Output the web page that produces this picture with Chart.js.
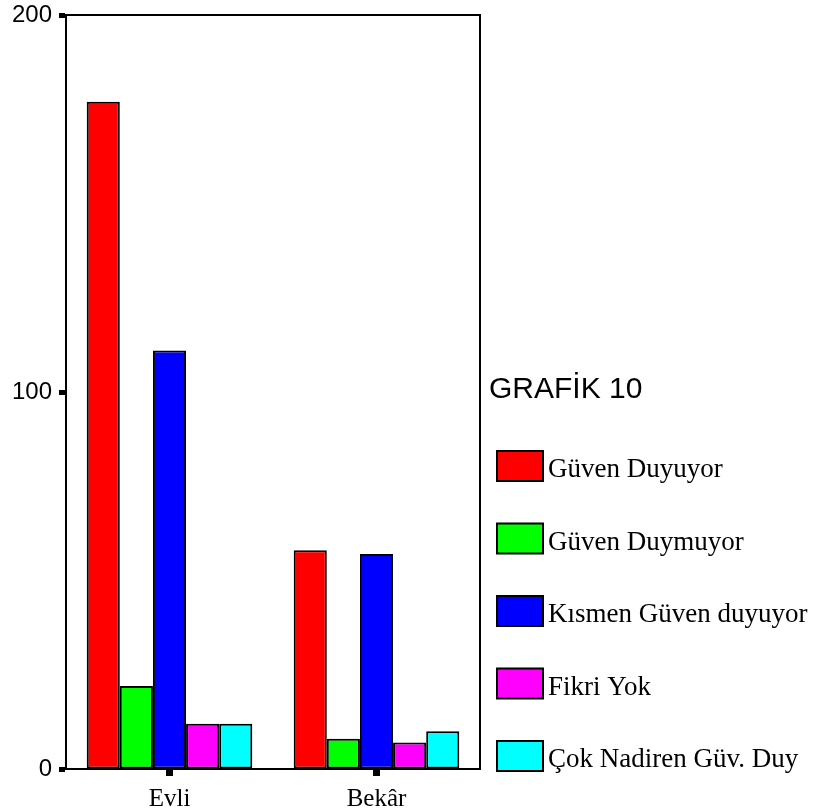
<!DOCTYPE html>
<html>
<head>
<meta charset="utf-8">
<script src="https://cdn.jsdelivr.net/npm/chart.js@4.4.0/dist/chart.umd.min.js"></script>
<style>
  body { margin: 0; background: #fff; }
</style>
</head>
<body>
<canvas id="barChart" width="818" height="810"></canvas>
<script>
const categories = ['Evli', 'Bekâr'];
const seriesNames = ['Güven Duyuyor', 'Güven Duymuyor', 'Kısmen Güven duyuyor', 'Fikri Yok', 'Çok Nadiren Güv. Duy'];
const guvenDuyuyor = [177, 58];
const guvenDuymuyor = [22, 8];
const kismenGuven = [111, 57];
const fikriYok = [12, 7];
const cokNadiren = [12, 10];
const yTicks = [0, 100, 200];
const colors = ['#ff0000', '#00ff00', '#0000ff', '#ff00ff', '#00ffff'];

const seriesValues = [guvenDuyuyor, guvenDuymuyor, kismenGuven, fikriYok, cokNadiren];

// box around plot + title + legend on the right
const sideLegend = {
    id: 'sideLegend',
    afterDraw(chart) {
        const ctx = chart.ctx;
        const area = chart.chartArea;
        ctx.save();
        ctx.strokeStyle = '#000';
        ctx.lineWidth = 2;
        ctx.beginPath();
        ctx.moveTo(area.left, area.top);
        ctx.lineTo(area.right, area.top);
        ctx.lineTo(area.right, area.bottom);
        ctx.stroke();

        ctx.fillStyle = '#000';
        ctx.font = '30px "Liberation Sans", Arial, sans-serif';
        ctx.textBaseline = 'middle';
        ctx.textAlign = 'left';
        ctx.fillText('GRAFİK 10', 489, 390);

        ctx.font = '27px "Liberation Serif", "Times New Roman", serif';
        chart.data.datasets.forEach((ds, i) => {
            const y = 451 + i * 72.5;
            ctx.fillStyle = ds.backgroundColor;
            ctx.fillRect(497, y, 46, 30);
            ctx.strokeStyle = '#000';
            ctx.lineWidth = 2;
            ctx.strokeRect(497, y, 46, 30);
            ctx.fillStyle = '#000';
            ctx.textBaseline = 'alphabetic';
            ctx.fillText(ds.label, 548, y + 26);
        });
        ctx.restore();
    }
};

const barChart = new Chart(document.getElementById('barChart').getContext('2d'), {
    type: 'bar',
    data: {
        labels: categories,
        datasets: seriesNames.map((name, i) => ({
            label: name,
            data: seriesValues[i],
            backgroundColor: colors[i],
            borderColor: '#000',
            borderWidth: 2,
            borderSkipped: false,
            barPercentage: 1,
            categoryPercentage: 0.8
        }))
    },
    options: {
        responsive: false,
        animation: false,
        layout: { padding: { top: 15, right: 338, left: 0, bottom: 0 } },
        plugins: {
            legend: { display: false },
            tooltip: { enabled: false }
        },
        scales: {
            x: {
                afterFit: (scale) => { scale.height = 41; },
                grid: {
                    display: true,
                    drawOnChartArea: false,
                    offset: false,
                    tickLength: 7,
                    tickWidth: 7,
                    color: '#000'
                },
                border: { display: true, color: '#000', width: 2 },
                ticks: {
                    color: '#000',
                    padding: 8,
                    font: { family: '"Liberation Serif", "Times New Roman", serif', size: 25 }
                }
            },
            y: {
                min: 0,
                max: 200,
                afterFit: (scale) => {
                    scale.width = 66;
                    scale.paddingTop = 0;
                    scale.paddingBottom = 0;
                },
                afterBuildTicks: (scale) => { scale.ticks = yTicks.map(v => ({ value: v })); },
                grid: {
                    display: true,
                    drawOnChartArea: false,
                    tickLength: 7,
                    tickWidth: 5,
                    color: '#000'
                },
                border: { display: true, color: '#000', width: 2 },
                ticks: {
                    color: '#000',
                    padding: 7,
                    font: { family: '"Liberation Sans", Arial, sans-serif', size: 24 }
                }
            }
        }
    },
    plugins: [sideLegend]
});
</script>
</body>
</html>
